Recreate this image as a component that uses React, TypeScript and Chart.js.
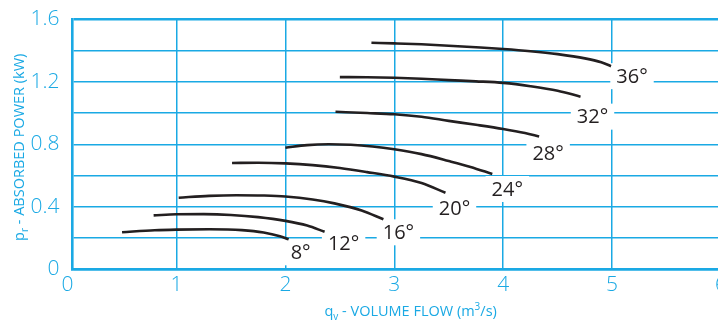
import React, { useEffect, useRef } from "react";
import { Chart, registerables } from "chart.js";

Chart.register(...registerables);

// ---- data ----
const flowTicks = [0, 1, 2, 3, 4, 5, 6];
const powerTickLabels = ["0", "0.4", "0.8", "1.2", "1.6"];

const curveLabels = ["8°", "12°", "16°", "20°", "24°", "28°", "32°", "36°"];

const flow8 = [0.5, 0.8, 1.0, 1.3, 1.6, 1.8, 1.95, 2.03];
const power8 = [0.237, 0.25, 0.254, 0.256, 0.251, 0.236, 0.212, 0.192];

const flow12 = [0.79, 1.0, 1.25, 1.5, 1.75, 2.0, 2.2, 2.36];
const power12 = [0.345, 0.352, 0.353, 0.348, 0.334, 0.31, 0.28, 0.24];

const flow16 = [1.02, 1.3, 1.55, 1.8, 2.0, 2.25, 2.45, 2.7, 2.9];
const power16 = [0.458, 0.47, 0.474, 0.472, 0.466, 0.447, 0.422, 0.377, 0.32];

const flow20 = [1.51, 1.75, 2.0, 2.25, 2.5, 2.75, 3.0, 3.25, 3.47];
const power20 = [0.68, 0.682, 0.678, 0.667, 0.648, 0.622, 0.593, 0.552, 0.49];

const flow24 = [2.0, 2.2, 2.4, 2.6, 2.8, 3.0, 3.25, 3.5, 3.7, 3.9];
const power24 = [0.778, 0.795, 0.8, 0.797, 0.786, 0.768, 0.737, 0.693, 0.655, 0.61];

const flow28 = [2.46, 2.75, 3.0, 3.25, 3.5, 3.75, 4.0, 4.2, 4.33];
const power28 = [1.008, 1.0, 0.992, 0.976, 0.95, 0.925, 0.898, 0.872, 0.85];

const flow32 = [2.5, 2.75, 3.0, 3.25, 3.5, 3.75, 4.0, 4.25, 4.5, 4.71];
const power32 = [1.23, 1.229, 1.226, 1.22, 1.211, 1.203, 1.193, 1.172, 1.143, 1.105];

const flow36 = [2.79, 3.0, 3.25, 3.5, 3.75, 4.0, 4.25, 4.5, 4.75, 4.9, 4.99];
const power36 = [1.45, 1.446, 1.44, 1.431, 1.421, 1.41, 1.396, 1.377, 1.35, 1.325, 1.3];

const flows = [flow8, flow12, flow16, flow20, flow24, flow28, flow32, flow36];
const powers = [power8, power12, power16, power20, power24, power28, power32, power36];

// ---- styles ----
const CYAN = "#1aa9e4";
const INK = "#231f20";
const NARROW = "'Open Sans', 'DejaVu Sans Condensed', sans-serif";
const LABEL_FONT = "'Open Sans', 'Noto Sans', sans-serif";
// pixel offsets of each curve label centre from the curve's last point
const labelOffsets = [
  [12, 13],
  [19, 11],
  [15, 13],
  [9, 16],
  [15, 15],
  [9, 17],
  [12, 20],
  [21, 10],
];

const curveLabelPlugin = {
  id: "curveLabels",
  beforeDatasetsDraw(chart: any) {
    const ctx = chart.ctx;
    ctx.save();
    ctx.font = `20px ${LABEL_FONT}`;
    ctx.textAlign = "center";
    ctx.textBaseline = "middle";
    chart.data.datasets.forEach((ds: any, i: number) => {
      const meta = chart.getDatasetMeta(i);
      const last = meta.data[meta.data.length - 1];
      const [dx, dy] = labelOffsets[i];
      const cx = last.x + dx;
      const cy = last.y + dy;
      const text = curveLabels[i];
      const w = ctx.measureText(text).width;
      ctx.fillStyle = "#ffffff";
      ctx.fillRect(cx - w / 2 - 6, cy - 13, w + 12, 26);
      ctx.fillStyle = INK;
      ctx.fillText(text, cx, cy + 1);
    });
    ctx.restore();
  },
};

function drawParts(ctx: any, parts: any[], x: number, y: number) {
  // parts: [text, size, dy]
  let total = 0;
  parts.forEach((p) => {
    ctx.font = `${p[1]}px ${NARROW}`;
    total += ctx.measureText(p[0]).width;
  });
  let cx = x - total / 2;
  parts.forEach((p) => {
    ctx.font = `${p[1]}px ${NARROW}`;
    ctx.fillText(p[0], cx, y + p[2]);
    cx += ctx.measureText(p[0]).width;
  });
}

const axisTitlePlugin = {
  id: "axisTitles",
  afterDraw(chart: any) {
    const ctx = chart.ctx;
    const xs = chart.scales.x;
    const area = chart.chartArea;
    ctx.save();
    ctx.fillStyle = CYAN;
    ctx.textAlign = "left";
    ctx.textBaseline = "alphabetic";
    drawParts(
      ctx,
      [
        ["q", 14.5, 0],
        ["v", 10, 4],
        [" - VOLUME FLOW (m", 14.5, 0],
        ["3", 10, -6],
        ["/s)", 14.5, 0],
      ],
      xs.getPixelForValue(3.15),
      area.bottom + 47
    );
    ctx.translate(24, (area.top + area.bottom) / 2 + 3);
    ctx.rotate(-Math.PI / 2);
    drawParts(
      ctx,
      [
        ["p", 14.5, 0],
        ["r", 10, 4],
        [" - ABSORBED POWER (kW)", 14.5, 0],
      ],
      0,
      0
    );
    ctx.restore();
  },
};

export default function App() {
  const ref = useRef<HTMLCanvasElement>(null);
  useEffect(() => {
    const canvas = ref.current!;
    const chart = new Chart(canvas, {
      type: "line",
      data: {
        datasets: flows.map((fx, i) => ({
          label: curveLabels[i],
          data: fx.map((x, j) => ({ x, y: powers[i][j] })),
          borderColor: INK,
          borderWidth: 2.6,
          pointRadius: 0,
          fill: false,
          tension: 0.4,
          cubicInterpolationMode: "monotone" as const,
        })),
      },
      options: {
        responsive: false,
        animation: false,
        layout: { padding: { top: 19.3, right: 24, left: 0, bottom: 0 } },
        plugins: { legend: { display: false }, tooltip: { enabled: false } },
        scales: {
          x: {
            type: "linear",
            min: 0.045,
            max: 6,
            afterBuildTicks: (axis: any) => {
              axis.ticks = flowTicks.map((v) => ({ value: v }));
            },
            afterFit: (axis: any) => {
              axis.height = 52.7;
            },
            grid: {
              color: (c: any) => (c.tick && c.tick.value === 0 ? "rgba(0,0,0,0)" : CYAN),
              lineWidth: 1.5,
              drawTicks: false,
            },
            border: { color: CYAN, width: 2.6 },
            ticks: {
              autoSkip: false,
              maxRotation: 0,
              color: CYAN,
              padding: 3,
              font: { family: NARROW, size: 21, style: "condensed" as any, weight: "300" as any },
              callback: (v: any) => String(v),
            },
          },
          y: {
            type: "linear",
            min: 0,
            max: 1.6,
            afterFit: (axis: any) => {
              axis.width = 72.5;
            },
            grid: {
              color: CYAN,
              lineWidth: (c: any) => (c.tick && c.tick.value > 1.59 ? 2.6 : 1.5),
              drawTicks: false,
            },
            border: { color: CYAN, width: 2.6 },
            ticks: {
              stepSize: 0.2,
              color: CYAN,
              padding: 13,
              font: { family: NARROW, size: 21, lineHeight: 0.5, style: "condensed" as any, weight: "300" as any },
              callback: (v: any) => {
                const k = Math.round(Number(v) * 10);
                return k % 4 === 0 ? powerTickLabels[k / 4] : "";
              },
            },
          },
        },
      },
      plugins: [curveLabelPlugin, axisTitlePlugin],
    });
    return () => chart.destroy();
  }, []);
  return (
    <div
      style={{
        position: "fixed",
        left: 0,
        top: 0,
        width: 718,
        height: 322,
        overflow: "hidden",
        background: "#fff",
      }}
    >
      <canvas ref={ref} width={745} height={322} style={{ width: 745, height: 322, display: "block" }} />
    </div>
  );
}
